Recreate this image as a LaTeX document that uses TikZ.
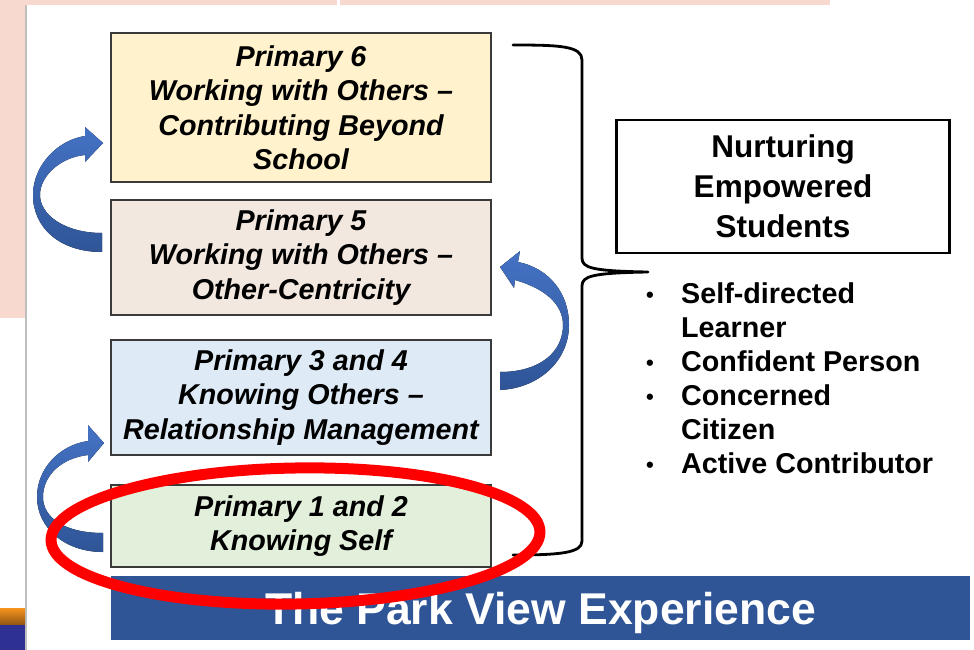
\documentclass[tikz,border=0pt]{standalone}
\usepackage{fontspec}
\setmainfont{Liberation Sans}
\usetikzlibrary{calc}

\definecolor{pinkbg}{HTML}{F8D9CF}
\definecolor{sixfill}{HTML}{FFF2CC}
\definecolor{fivefill}{HTML}{F2E8DF}
\definecolor{fourfill}{HTML}{DEEBF7}
\definecolor{twofill}{HTML}{E2EFDA}
\definecolor{boxline}{HTML}{3A3A3A}
\definecolor{bandblue}{HTML}{2F5597}
\definecolor{arrowtop}{HTML}{4472C4}
\definecolor{arrowbot}{HTML}{2F5597}
\definecolor{stripnavy}{HTML}{2E3192}
\definecolor{striporange}{HTML}{F7941D}

\newcommand{\traitdot}{\makebox[36pt][l]{\hspace{1pt}\raisebox{1pt}{\fontsize{22}{22}\selectfont\textbullet}}}

\begin{document}
\begin{tikzpicture}[x=1pt, y=-1pt, >=stealth,
    stagebox/.style={draw=boxline, line width=1.3pt, minimum width=380, inner sep=0pt,
      align=center, font=\fontsize{28.7}{34.5}\selectfont\bfseries\itshape},
    goalbox/.style={draw, line width=2.5pt, minimum width=333, minimum height=133,
      align=center, font=\fontsize{31.5}{40}\selectfont\bfseries},
    traitlist/.style={inner sep=0pt, align=left, font=\fontsize{28.7}{34}\selectfont\bfseries},
    bluearrow/.style={top color=arrowtop, bottom color=arrowbot},
    brace/.style={line width=2.8pt, line cap=round, line join=round}
  ]
    \useasboundingbox (0,0) rectangle (974,650);
    \fill[white] (0,0) rectangle (974,650);
    \fill[pinkbg] (0,0) rectangle (25,318);
    \fill[pinkbg] (25,0) rectangle (337,5);
    \fill[pinkbg] (340,0) rectangle (830,5);
    \draw[black!25, line width=1.5pt] (26,5) -- (26,650);
    \shade[top color=striporange, bottom color=striporange!60!black] (0,608) rectangle (25,624);
    \fill[stripnavy] (0,625) rectangle (25,650);

    \node[stagebox, fill=sixfill, minimum height=149] (six) at (301,107.5)
      {Primary 6\\Working with Others –\\Contributing Beyond\\School};
    \node[stagebox, fill=fivefill, minimum height=115] (five) at (301,257.5)
      {Primary 5\\Working with Others –\\Other-Centricity};
    \node[stagebox, fill=fourfill, minimum height=115] (four) at (301,397.5)
      {Primary 3 and 4\\Knowing Others –\\Relationship Management};
    \node[stagebox, fill=twofill, minimum height=82] (two) at (301,526)
      {Primary 1 and 2\\Knowing Self};

    \fill[bluearrow] (102,252) .. controls (60,252) and (33,228) .. (33,195)
      .. controls (33,165) and (58,140) .. (85,136) -- (85,127) -- (103,143) -- (85,162) -- (85,155)
      .. controls (62,157) and (40,175) .. (40,195) .. controls (40,215) and (65,233) .. (102,233) -- cycle;
    \fill[bluearrow] (103,552) .. controls (65,552) and (37,528) .. (37,497)
      .. controls (37,468) and (60,445) .. (88,441) -- (88,425) -- (104,443) -- (88,462) -- (88,455)
      .. controls (62,458) and (43,475) .. (43,497) .. controls (43,518) and (65,533) .. (103,533) -- cycle;
    \fill[bluearrow] (500,390) .. controls (540,388) and (569,360) .. (569,325)
      .. controls (569,292) and (548,268) .. (518,262) -- (520,251) -- (500,267) -- (514,288) -- (515,280)
      .. controls (543,288) and (563,303) .. (563,325) .. controls (563,352) and (540,372) .. (500,372) -- cycle;

    \draw[brace] (513,45) .. controls (560,45) and (582,46) .. (582,60) -- (582,258)
      .. controls (582,268) and (592,271) .. (648,272) .. controls (592,273) and (582,276) .. (582,286)
      -- (582,541) .. controls (582,553) and (560,555) .. (513,555);

    \node[goalbox] (goal) at (783,186.5) {Nurturing\\Empowered\\Students};
    \node[traitlist, anchor=north west] (traits) at (645,282)
      {\traitdot Self-directed\\
       \hspace*{36pt}Learner\\
       \traitdot Confident Person\\
       \traitdot Concerned\\
       \hspace*{36pt}Citizen\\
       \traitdot Active Contributor};

    \node[fill=bandblue, minimum width=859, minimum height=64, inner sep=0pt, text depth=0pt,
      text=white, font=\fontsize{44.5}{44.5}\selectfont\bfseries] (band) at (540.5,608)
      {The Park View Experience};

    \draw[red, line width=11pt, rotate around={1:(295.5,536)}] (295.5,536) ellipse [x radius=244.5, y radius=68];
\end{tikzpicture}
\end{document}
